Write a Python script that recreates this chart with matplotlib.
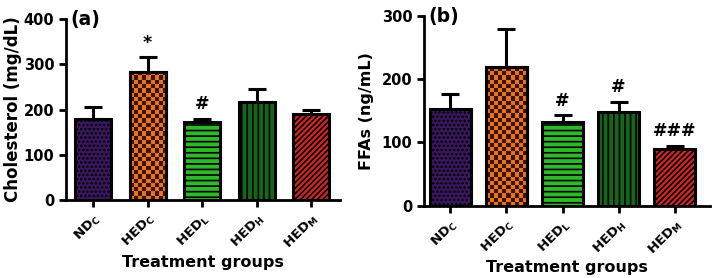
import matplotlib.pyplot as plt
import numpy as np
from matplotlib.colors import ListedColormap

plt.rcParams['font.family'] = 'DejaVu Sans'
plt.rcParams['font.weight'] = 'bold'
plt.rcParams['mathtext.default'] = 'bf'
plt.rcParams['hatch.linewidth'] = 1.2

groups = [r'ND$_\mathregular{C}$', r'HED$_\mathregular{C}$', r'HED$_\mathregular{L}$',
          r'HED$_\mathregular{H}$', r'HED$_\mathregular{M}$']
colors = ['#3b1760', '#e8721e', '#2fb82a', '#17651a', '#d42525']
hatches = ['....', None, '---', '|||', '//////']

chol_mean = [178, 283, 172, 216, 189]
chol_err = [28, 32, 8, 29, 10]
chol_marks = ['', '*', '#', '', '']

ffa_mean = [153, 219, 133, 149, 89]
ffa_err = [23, 61, 10, 15, 6]
ffa_marks = ['', '', '#', '#', '###']

fig = plt.figure(figsize=(7.12, 2.78), dpi=100)
ax1 = fig.add_axes([0.0927, 0.2806, 0.385, 0.651])
ax2 = fig.add_axes([0.5955, 0.26, 0.4017, 0.6823])


def checker(ax, bar, color, cell_px=4.2):
    # orange / dark checkerboard fill, clipped to the bar
    x0, y0 = bar.get_x(), bar.get_y()
    x1, y1 = x0 + bar.get_width(), y0 + bar.get_height()
    p0 = ax.transData.transform((x0, y0))
    p1 = ax.transData.transform((x1, y1))
    nx = max(1, int(round((p1[0] - p0[0]) / cell_px)))
    ny = max(1, int(round((p1[1] - p0[1]) / cell_px)))
    grid = (np.add.outer(np.arange(ny), np.arange(nx)) % 2).astype(float)
    cmap = ListedColormap([color, '#3a1405'])
    im = ax.imshow(grid, cmap=cmap, extent=(x0, x1, y0, y1), aspect='auto',
                   interpolation='nearest', zorder=2.5, origin='lower')
    im.set_clip_path(bar)


def draw(ax, means, errs, marks, ylabel, ylsize, ylx, ymax, step, letter, xlim, width):
    x = np.arange(len(means))
    ax.set_ylim(0, ymax)
    ax.set_xlim(*xlim)
    bars = ax.bar(x, means, width=width, color=colors, edgecolor='black',
                  linewidth=2.2, hatch=hatches, zorder=2)
    ax.errorbar(x, means, yerr=[np.zeros(len(errs)), errs], fmt='none',
                ecolor='black', elinewidth=2.2, capsize=6.5, capthick=2.2, zorder=1)
    checker(ax, bars[1], colors[1])
    # redraw outline on top of checkerboard
    b = bars[1]
    ax.add_patch(plt.Rectangle((b.get_x(), b.get_y()), b.get_width(), b.get_height(),
                               fill=False, edgecolor='black', linewidth=2.2, zorder=3))
    for xi, m, e, t in zip(x, means, errs, marks):
        if t:
            ax.annotate(t, (xi, m + e), xytext=(0, 4), textcoords='offset points',
                        ha='center', va='bottom', fontsize=12.5, fontweight='bold')
    ax.set_yticks(np.arange(0, ymax + 1, step))
    ax.set_xticks(x)
    ax.set_xticklabels(groups, rotation=45, ha='right', rotation_mode='anchor',
                       fontsize=9.5, fontweight='bold')
    ax.set_ylabel(ylabel, fontsize=ylsize, fontweight='bold')
    ax.yaxis.set_label_coords(ylx, 0.5)
    ax.set_xlabel('Treatment groups', fontsize=11.5, fontweight='bold', labelpad=2)
    for s in ['top', 'right']:
        ax.spines[s].set_visible(False)
    for s in ['left', 'bottom']:
        ax.spines[s].set_linewidth(2)
    ax.tick_params(width=2, length=5)
    ax.tick_params(axis='y', labelsize=10.5)
    ax.text(0.015, 1.0, letter, transform=ax.transAxes, fontsize=13.5,
            fontweight='bold', va='center', ha='left')


draw(ax1, chol_mean, chol_err, chol_marks, 'Cholesterol (mg/dL)', 12, -0.16, 400, 100,
     '(a)', (-0.495, 4.53), 0.66)
draw(ax2, ffa_mean, ffa_err, ffa_marks, 'FFAs (ng/mL)', 11.5, -0.175, 300, 100,
     '(b)', (-0.47, 4.63), 0.72)

fig.savefig('out.png', dpi=100)
